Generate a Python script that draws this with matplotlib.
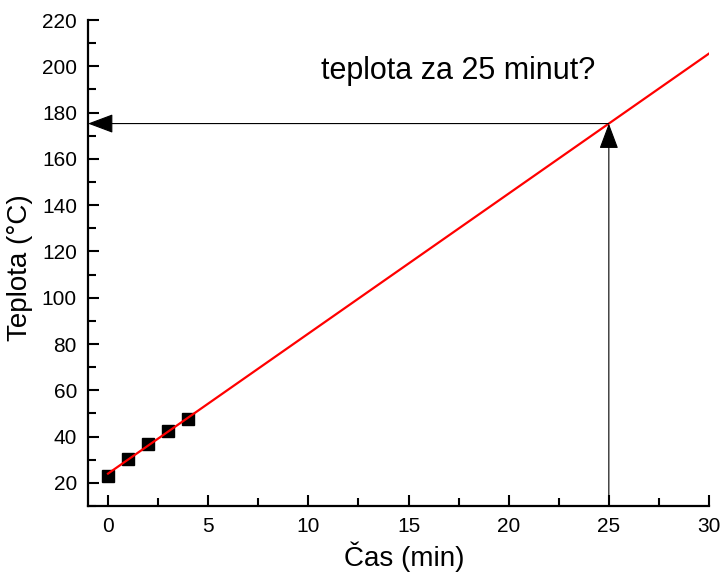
import matplotlib
matplotlib.use("Agg")
import matplotlib.pyplot as plt
import numpy as np
from matplotlib.ticker import MultipleLocator

# data
time_min = [0, 1, 2, 3, 4]
temp_c = [23, 30.5, 37, 42.5, 47.5]
fit_intercept = 24.0
fit_slope = 6.05
fit_x = [0, 30]
query_time = 25
question = "teplota za 25 minut?"

plt.rcParams['font.family'] = ['Liberation Sans', 'DejaVu Sans']

fig = plt.figure(figsize=(7.22, 5.73), dpi=100)
ax = fig.add_axes([88/722, 1-506/573, (709-88)/722, (506-20)/573])

fx = np.array(fit_x, dtype=float)
ax.plot(fx, fit_intercept + fit_slope*fx, color='#ff0000', lw=1.6, zorder=3)
ax.plot(time_min, temp_c, 's', color='black', ms=8, zorder=2)

ax.set_xlim(-1, 30)
ax.set_ylim(10, 220)

qy = fit_intercept + fit_slope*query_time
ax.annotate('', xy=(-1, qy), xytext=(query_time, qy),
            arrowprops=dict(arrowstyle='-|>,head_length=1.6,head_width=0.6',
                            mutation_scale=10, color='black', lw=0.8,
                            shrinkA=0, shrinkB=0), annotation_clip=False)
ax.annotate('', xy=(query_time, qy), xytext=(query_time, 10),
            arrowprops=dict(arrowstyle='-|>,head_length=1.6,head_width=0.6',
                            mutation_scale=10, color='black', lw=0.8,
                            shrinkA=0, shrinkB=0), annotation_clip=False)

ax.text(17.5, 198, question, fontsize=22, ha='center', va='center')

for s in ['top', 'right']:
    ax.spines[s].set_visible(False)
for s in ['left', 'bottom']:
    ax.spines[s].set_linewidth(1.6)

ax.xaxis.set_major_locator(MultipleLocator(5))
ax.xaxis.set_minor_locator(MultipleLocator(2.5))
ax.yaxis.set_major_locator(MultipleLocator(20))
ax.yaxis.set_minor_locator(MultipleLocator(10))
ax.set_yticks(np.arange(20, 221, 20))
ax.tick_params(which='major', direction='in', length=8, width=1.5, labelsize=15, pad=8)
ax.tick_params(which='minor', direction='in', length=5.5, width=1.5)

ax.set_xlabel('Čas (min)', fontsize=20, labelpad=4, x=0.509)
ax.set_ylabel('Teplota (°C)', fontsize=20, labelpad=6, y=0.49)

fig.savefig('out.png', dpi=100)
